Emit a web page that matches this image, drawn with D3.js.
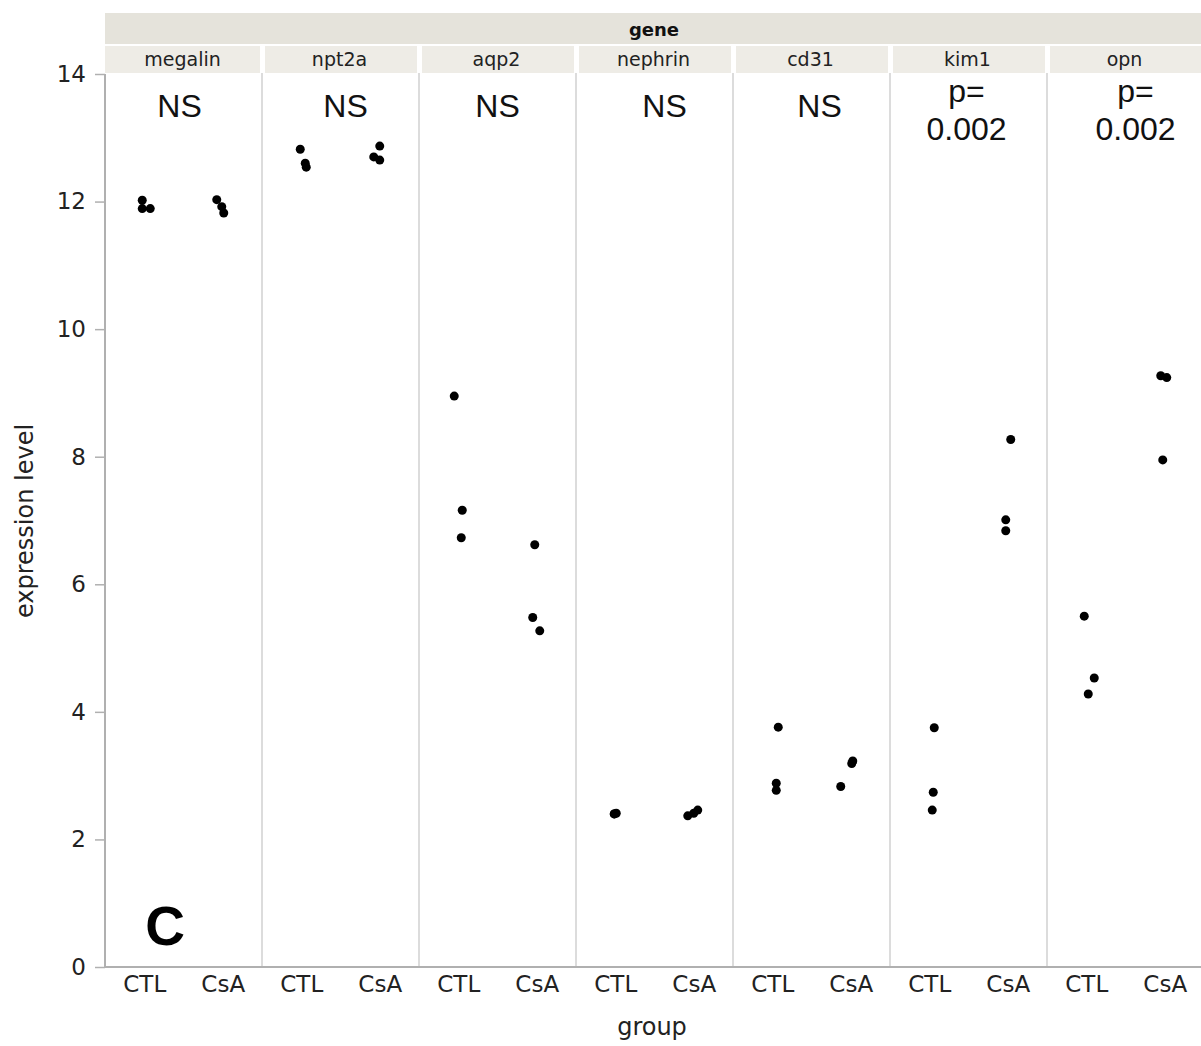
<!DOCTYPE html>
<html><head><meta charset="utf-8">
<script src="https://cdn.jsdelivr.net/npm/d3@7"></script>
<style>body{margin:0;background:#fff}svg{display:block}</style>
</head><body>
<script>
const genes = ["megalin","npt2a","aqp2","nephrin","cd31","kim1","opn"];
const groups = ["CTL","CsA"];
const annotations = [["NS"],["NS"],["NS"],["NS"],["NS"],["p=","0.002"],["p=","0.002"]];
const yTicks = [0,2,4,6,8,10,12,14];
const ctlValues = [[12.02,11.89,11.89],[12.82,12.60,12.54],[8.95,7.16,6.73],[2.40,2.40,2.41],[3.76,2.88,2.77],[3.75,2.74,2.46],[5.50,4.53,4.28]];
const csaValues = [[12.03,11.92,11.82],[12.87,12.70,12.65],[6.62,5.48,5.27],[2.37,2.41,2.46],[2.83,3.19,3.23],[8.27,7.01,6.84],[7.95,9.27,9.24]];
// horizontal jitter (in pixels) of each point, as drawn
const ctlJitter = [[-2,-2,6],[-1,4,5],[-4,4,3],[-1,-1,1],[6,4,4],[5,4,3],[-2,8,2]];
const csaJitter = [[-6,-1,1],[0,-6,0],[-2,-4,3],[-6,0,4],[-10,1,2],[3,-2,-2],[-2,-4,2]];

const W = 1201, H = 1046;
const plotLeft = 105, plotRight = 1204, plotTop = 74, plotBottom = 967;
const font = "DejaVu Sans, sans-serif";

const svg = d3.select("body").append("svg").attr("width", W).attr("height", H);

const xOuter = d3.scaleBand().domain(genes).range([plotLeft, plotRight]).padding(0);
const xInner = d3.scalePoint().domain(groups).range([0, xOuter.bandwidth()]).padding(0.5);
const y = d3.scaleLinear().domain([0, 14]).range([plotBottom, plotTop]);

// header strips
svg.append("rect").attr("x", plotLeft).attr("y", 13).attr("width", W - plotLeft).attr("height", 31).attr("fill", "#e5e3db");
svg.append("text").attr("x", (plotLeft + W) / 2 + 1).attr("y", 36).attr("text-anchor", "middle")
  .attr("font-family", font).attr("font-weight", "bold").attr("font-size", 18).attr("fill", "#111").text("gene");

genes.forEach((g, i) => {
  const x0 = xOuter(g);
  svg.append("rect").attr("x", x0 + (i ? 3 : 0)).attr("y", 46).attr("width", xOuter.bandwidth() - (i ? 5 : 2)).attr("height", 27).attr("fill", "#eeece6");
  svg.append("text").attr("x", x0 + xOuter.bandwidth() / 2 - 1).attr("y", 66).attr("text-anchor", "middle")
    .attr("font-family", font).attr("font-size", 19).attr("fill", "#222").text(g);
});

// panel separators
genes.forEach((g, i) => {
  if (i === 0) return;
  svg.append("line").attr("x1", xOuter(g)).attr("x2", xOuter(g)).attr("y1", 73).attr("y2", plotBottom)
    .attr("stroke", "#dcdcdc").attr("stroke-width", 2);
});

// y axis
const yAxis = svg.append("g").attr("transform", `translate(${plotLeft},0)`)
  .call(d3.axisLeft(y).tickValues(yTicks).tickSize(10).tickPadding(9));
yAxis.select(".domain").attr("stroke", "#b0b0b0").attr("stroke-width", 2).attr("d", `M0,${plotTop}V${plotBottom}`);
yAxis.selectAll(".tick line").attr("stroke", "#b0b0b0").attr("stroke-width", 1.5);
yAxis.selectAll(".tick text").attr("font-family", font).attr("font-size", 23).attr("fill", "#222");

// x axis line
svg.append("line").attr("x1", plotLeft - 1).attr("x2", W).attr("y1", plotBottom).attr("y2", plotBottom)
  .attr("stroke", "#b0b0b0").attr("stroke-width", 2);

// panels
genes.forEach((g, i) => {
  const gx = svg.append("g").attr("transform", `translate(${xOuter(g)},0)`);
  const ax = gx.append("g").attr("transform", `translate(0,${plotBottom})`)
    .call(d3.axisBottom(xInner).tickSize(0).tickPadding(9));
  ax.select(".domain").remove();
  ax.selectAll(".tick text").attr("font-family", font).attr("font-size", 23).attr("fill", "#222");

  const pts = [];
  ctlValues[i].forEach((v, k) => pts.push({grp: "CTL", v, j: ctlJitter[i][k]}));
  csaValues[i].forEach((v, k) => pts.push({grp: "CsA", v, j: csaJitter[i][k]}));
  gx.selectAll("circle").data(pts).enter().append("circle")
    .attr("cx", d => xInner(d.grp) + d.j).attr("cy", d => y(d.v)).attr("r", 4.5).attr("fill", "#000");

  const ann = annotations[i];
  const cx = xOuter.bandwidth() / 2 + (ann.length === 1 ? (i === 3 ? 10 : i === 4 ? 8 : i === 0 ? -4 : i === 1 ? 5 : 0) : (i === 6 ? 10 : -2));
  const t = gx.append("text").attr("text-anchor", "middle").attr("font-family", "Liberation Sans, Arial, sans-serif")
    .attr("font-size", 32).attr("fill", "#111");
  if (ann.length === 1) {
    t.append("tspan").attr("x", cx).attr("y", 117).text(ann[0]);
  } else {
    t.append("tspan").attr("x", cx).attr("y", 102).text(ann[0]);
    t.append("tspan").attr("x", cx).attr("y", 140).text(ann[1]);
  }
});

// panel letter
svg.append("text").attr("x", 165).attr("y", 945).attr("text-anchor", "middle")
  .attr("font-family", "Liberation Sans, Arial, sans-serif").attr("font-weight", "bold").attr("font-size", 55).attr("fill", "#000").text("C");

// axis titles
svg.append("text").attr("transform", `translate(33,521) rotate(-90)`).attr("text-anchor", "middle")
  .attr("font-family", font).attr("font-size", 24).attr("fill", "#222").text("expression level");
svg.append("text").attr("x", 652).attr("y", 1035).attr("text-anchor", "middle")
  .attr("font-family", font).attr("font-size", 24).attr("fill", "#222").text("group");
</script>
</body></html>
